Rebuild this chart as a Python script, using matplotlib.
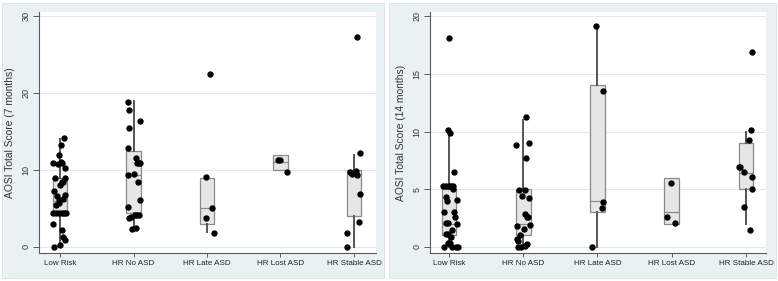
import numpy as np
import matplotlib.pyplot as plt
from matplotlib.patches import Rectangle

plt.rcParams['font.family'] = ['Liberation Sans', 'DejaVu Sans']

groups = ['Low Risk', 'HR No ASD', 'HR Late ASD', 'HR Lost ASD', 'HR Stable ASD']

# AOSI at 7 months: points (value, horizontal jitter in category units)
m7_low = [14.2, 13.2, 12.0, 10.9, 10.8, 11.0, 10.9, 10.3, 8.9, 8.9, 8.5, 8.1, 8.4, 7.3, 6.6, 6.8,
          6.1, 6.2, 5.7, 5.5, 4.4, 4.4, 4.4, 4.4, 4.4, 4.4, 3.0, 2.2, 1.3, 0.9, 0.3, 0.05]
m7_low_j = [0.06, 0.01, -0.02, -0.10, -0.03, 0.01, 0.03, 0.07, -0.07, 0.07, 0.045, 0, 0.03, -0.08,
            -0.045, 0.07, -0.01, 0.045, -0.01, -0.055, -0.09, -0.06, -0.02, 0.025, 0.06, 0.085,
            -0.10, 0.025, 0.035, 0.07, 0, -0.08]
m7_noasd = [18.8, 17.8, 15.4, 16.3, 12.9, 11.5, 10.9, 10.9, 10.9, 9.4, 9.5, 8.5, 6.1, 5.2, 3.7,
            3.9, 4.2, 4.2, 4.2, 2.3, 2.5]
m7_noasd_j = [-0.08, -0.065, -0.06, 0.085, -0.08, 0.04, 0.05, 0.07, 0.095, -0.07, 0, 0.06, 0.085,
              -0.08, -0.06, -0.03, 0.015, 0.05, 0.07, -0.025, 0.03]
m7_late = [22.5, 9.05, 5.1, 3.8, 1.8]
m7_late_j = [0.045, -0.02, 0.07, -0.02, 0.095]
m7_lost = [11.3, 11.3, 9.75]
m7_lost_j = [-0.03, -0.01, 0.095]
m7_stable = [27.2, 12.2, 9.7, 9.5, 9.8, 9.4, 6.9, 3.3, 1.8, 0]
m7_stable_j = [0.045, 0.08, -0.05, -0.03, 0.03, 0.035, 0.08, 0.07, -0.09, -0.09]

# box summaries: q1, median, q3, lower whisker, upper whisker
m7_q1 = [4.5, 4.4, 3, 10, 4]
m7_med = [6, 9.4, 5, 11, 9.5]
m7_q3 = [9, 12.5, 9, 12, 10]
m7_lo = [0, 2.3, 2, 10, 0]
m7_hi = [14, 19, 9, 12, 12]

# AOSI at 14 months
m14_low = [18.1, 10.1, 9.9, 6.5, 5.3, 5.3, 5.3, 5.3, 5.3, 5.0, 4.3, 4.1, 4.0, 3.0, 3.0, 2.6,
           2.1, 2.1, 2.0, 1.5, 1.1, 1.1, 0.9, 0.35, 0.35, 0, 0, 0, 0]
m14_low_j = [0, -0.01, 0.01, 0.065, -0.045, 0, 0.025, 0.05, -0.075, 0.06, -0.035, 0.11, -0.025,
             -0.065, 0.065, 0.08, -0.045, -0.015, 0.11, 0.045, -0.045, -0.015, 0.03, -0.01,
             0.01, -0.065, 0.045, 0.09, 0.12]
m14_noasd = [11.3, 8.8, 9.0, 7.7, 4.9, 4.9, 4.4, 4.2, 2.9, 2.6, 2.6, 1.8, 1.9, 1.6, 1.0, 0.7,
             0.5, 0.3, 0.1, 0, 0]
m14_noasd_j = [0.04, -0.095, 0.075, 0.035, -0.06, 0.03, -0.015, 0.08, 0.02, 0.055, 0.07, -0.09,
               0.09, 0.01, -0.045, -0.08, -0.065, 0.055, 0.03, -0.065, -0.025]
m14_late = [19.1, 13.5, 3.9, 3.35, 0]
m14_late_j = [-0.02, 0.07, 0.08, 0.055, -0.075]
m14_lost = [5.5, 2.6, 2.1]
m14_lost_j = [-0.015, -0.065, 0.05]
m14_stable = [16.9, 10.1, 9.3, 6.9, 6.9, 6.5, 6.1, 5.05, 3.5, 1.5]
m14_stable_j = [0.085, 0.07, 0.045, -0.1, -0.08, -0.02, 0.075, 0.085, -0.025, 0.05]

m14_q1 = [1, 1, 3, 2, 5]
m14_med = [2, 2, 4, 3, 6.4]
m14_q3 = [5, 5, 14, 6, 9]
m14_lo = [0, 0, 0, 2, 2]
m14_hi = [10, 11, 19, 6, 10]

PANEL = '#eaf1f3'
GRID = '#dce9ed'
AXC = '#5a5a5a'


def draw_panel(ax, points, jitters, q1, med, q3, lo, hi, yticks, ylim, xlim, ylabel):
    stats = []
    for i in range(len(groups)):
        stats.append(dict(q1=q1[i], med=med[i], q3=q3[i], whislo=lo[i], whishi=hi[i],
                          fliers=[]))
    ax.bxp(stats, positions=np.arange(1, 6), widths=0.2, patch_artist=True,
           showcaps=False,
           boxprops=dict(facecolor='#e6e6e6', edgecolor='#8a8a8a', linewidth=0.9),
           medianprops=dict(color='#8a8a8a', linewidth=0.9),
           whiskerprops=dict(color='#555555', linewidth=1.4),
           zorder=2)
    for i, (vals, jit) in enumerate(zip(points, jitters)):
        ax.scatter(i + 1 + np.array(jit), vals, s=21, color='black', zorder=3, linewidths=0)

    ax.set_xlim(*xlim)
    ax.set_ylim(*ylim)
    ax.set_yticks(yticks)
    ax.set_yticklabels([str(t) for t in yticks], rotation=90, va='center', fontsize=6.5,
                       color='#333333')
    ax.set_xticks(np.arange(1, 6))
    ax.set_xticklabels(groups, fontsize=5.8, color='#222222')
    ax.tick_params(axis='y', length=4, width=0.7, color=AXC, pad=2)
    ax.tick_params(axis='x', length=3, width=0.7, color=AXC, pad=2)
    for t in yticks:
        ax.axhline(t, color=GRID, lw=0.7, zorder=0)
    for s in ['top', 'right']:
        ax.spines[s].set_visible(False)
    for s in ['left', 'bottom']:
        ax.spines[s].set_color(AXC)
        ax.spines[s].set_linewidth(0.8)
    ax.set_ylabel(ylabel, fontsize=7.4, color='#333333', labelpad=5)


W, H = 778, 281
fig = plt.figure(figsize=(W / 100, H / 100), dpi=100)
fig.patches.append(Rectangle((2 / W, 3 / H), 382 / W, 275 / H, transform=fig.transFigure,
                             facecolor=PANEL, edgecolor='#d6e2e6', lw=0.6, zorder=-5))
fig.patches.append(Rectangle((389 / W, 3 / H), 387 / W, 275 / H, transform=fig.transFigure,
                             facecolor=PANEL, edgecolor='#d6e2e6', lw=0.6, zorder=-5))

ax1 = fig.add_axes([39 / W, (H - 253) / H, (376 - 39) / W, (253 - 12) / H])
ax2 = fig.add_axes([430 / W, (H - 253) / H, (766 - 430) / W, (253 - 12) / H])

draw_panel(ax1, [m7_low, m7_noasd, m7_late, m7_lost, m7_stable],
           [m7_low_j, m7_noasd_j, m7_late_j, m7_lost_j, m7_stable_j],
           m7_q1, m7_med, m7_q3, m7_lo, m7_hi,
           [0, 10, 20, 30], (-0.78, 30.5), (0.714, 5.3), 'AOSI Total Score (7 months)')
draw_panel(ax2, [m14_low, m14_noasd, m14_late, m14_lost, m14_stable],
           [m14_low_j, m14_noasd_j, m14_late_j, m14_lost_j, m14_stable_j],
           m14_q1, m14_med, m14_q3, m14_lo, m14_hi,
           [0, 5, 10, 15, 20], (-0.52, 20.35), (0.744, 5.27), 'AOSI Total Score (14 months)')

fig.savefig('out.png', dpi=100, facecolor='white')
